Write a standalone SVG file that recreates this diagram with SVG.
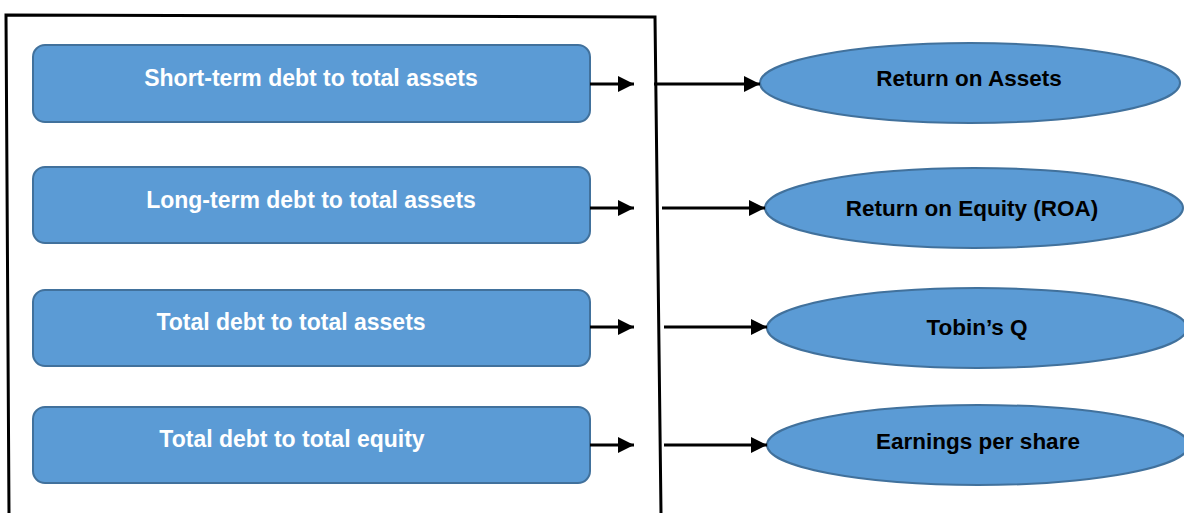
<svg xmlns="http://www.w3.org/2000/svg" width="1184" height="513" viewBox="0 0 1184 513">
<style>
.box{fill:#5B9BD5;stroke:#41719C;stroke-width:2}
.ell{fill:#5B9BD5;stroke:#41719C;stroke-width:2}
.bt{font-family:"Liberation Sans",Arial,sans-serif;font-weight:bold;font-size:23px;fill:#fff;text-anchor:middle}
.et{font-family:"Liberation Sans",Arial,sans-serif;font-weight:bold;font-size:22.5px;fill:#000;text-anchor:middle}
.con{stroke:#000;stroke-width:3;fill:none}
</style>
<defs>
<marker id="ah" viewBox="0 0 10 10" refX="10" refY="5" markerWidth="5.5" markerHeight="5.5" orient="auto" markerUnits="strokeWidth">
<path d="M0,0 L10,5 L0,10 z" fill="#000"/>
</marker>
</defs>
<rect width="1184" height="513" fill="#fff"/>
<g id="frame">
<path d="M9,513 L6,15 L655,17 L661,513" fill="none" stroke="#000" stroke-width="3"/>
</g>
<g id="n1"><rect class="box" x="33" y="45" width="557" height="77" rx="12"/><text class="bt" x="311" y="86">Short-term debt to total assets</text></g>
<g id="n2"><rect class="box" x="33" y="167" width="557" height="76" rx="12"/><text class="bt" x="311" y="208">Long-term debt to total assets</text></g>
<g id="n3"><rect class="box" x="33" y="290" width="557" height="76" rx="12"/><text class="bt" x="291" y="330">Total debt to total assets</text></g>
<g id="n4"><rect class="box" x="33" y="407" width="557" height="76" rx="12"/><text class="bt" x="292" y="447">Total debt to total equity</text></g>
<g id="e1"><ellipse class="ell" cx="970" cy="83" rx="210" ry="40"/><text class="et" x="969" y="86">Return on Assets</text></g>
<g id="e2"><ellipse class="ell" cx="974" cy="208" rx="209" ry="40"/><text class="et" x="972" y="216">Return on Equity (ROA)</text></g>
<g id="e3"><ellipse class="ell" cx="977" cy="328" rx="210" ry="40"/><text class="et" x="977" y="335">Tobin’s Q</text></g>
<g id="e4"><ellipse class="ell" cx="978" cy="445" rx="211" ry="40"/><text class="et" x="978" y="449">Earnings per share</text></g>
<g id="connectors">
<line class="con" x1="590" y1="84" x2="634" y2="84" marker-end="url(#ah)"/>
<line class="con" x1="590" y1="208" x2="634" y2="208" marker-end="url(#ah)"/>
<line class="con" x1="590" y1="327" x2="634" y2="327" marker-end="url(#ah)"/>
<line class="con" x1="590" y1="445" x2="634" y2="445" marker-end="url(#ah)"/>
<line class="con" x1="654" y1="84" x2="760" y2="84" marker-end="url(#ah)"/>
<line class="con" x1="662" y1="208" x2="765" y2="208" marker-end="url(#ah)"/>
<line class="con" x1="664" y1="327" x2="767" y2="327" marker-end="url(#ah)"/>
<line class="con" x1="664" y1="445" x2="767" y2="445" marker-end="url(#ah)"/>
</g>
</svg>
